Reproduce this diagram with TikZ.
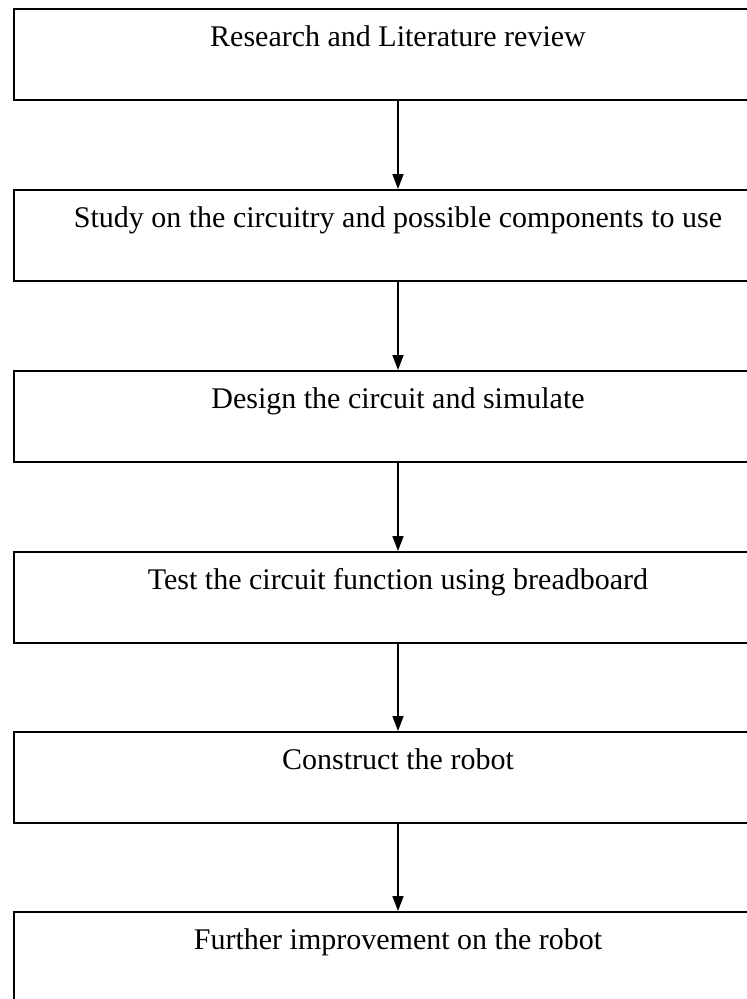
\documentclass[tikz,border=0pt]{standalone}
\usepackage{fontspec}
\setmainfont{Liberation Serif}
\usetikzlibrary{arrows.meta}
\tikzset{
  stepbox/.style={draw, line width=1.5pt, minimum width=768pt, minimum height=91pt, inner sep=0pt},
  steptext/.style={font=\fontsize{30}{35}\selectfont, anchor=base, inner sep=0pt},
  flow/.style={line width=1.5pt, -{Triangle[length=15pt,width=11pt]}}
}
\begin{document}
\begin{tikzpicture}[x=1pt,y=-1pt]
\useasboundingbox (0,0) rectangle (747,999);
\foreach \n/\t/\txt in {
  b1/8/{Research and Literature review},
  b2/189/{Study on the circuitry and possible components to use},
  b3/370/{Design the circuit and simulate},
  b4/551/{Test the circuit function using breadboard},
  b5/731/{Construct the robot},
  b6/911/{Further improvement on the robot}}{
  \node[stepbox, anchor=north] (\n) at (398,\t) {};
  \node[steptext] (\n t) at (398,\t+38) {\txt};
}
\draw[flow] (b1.south) -- (b2.north);
\draw[flow] (b2.south) -- (b3.north);
\draw[flow] (b3.south) -- (b4.north);
\draw[flow] (b4.south) -- (b5.north);
\draw[flow] (b5.south) -- (b6.north);
\end{tikzpicture}
\end{document}
